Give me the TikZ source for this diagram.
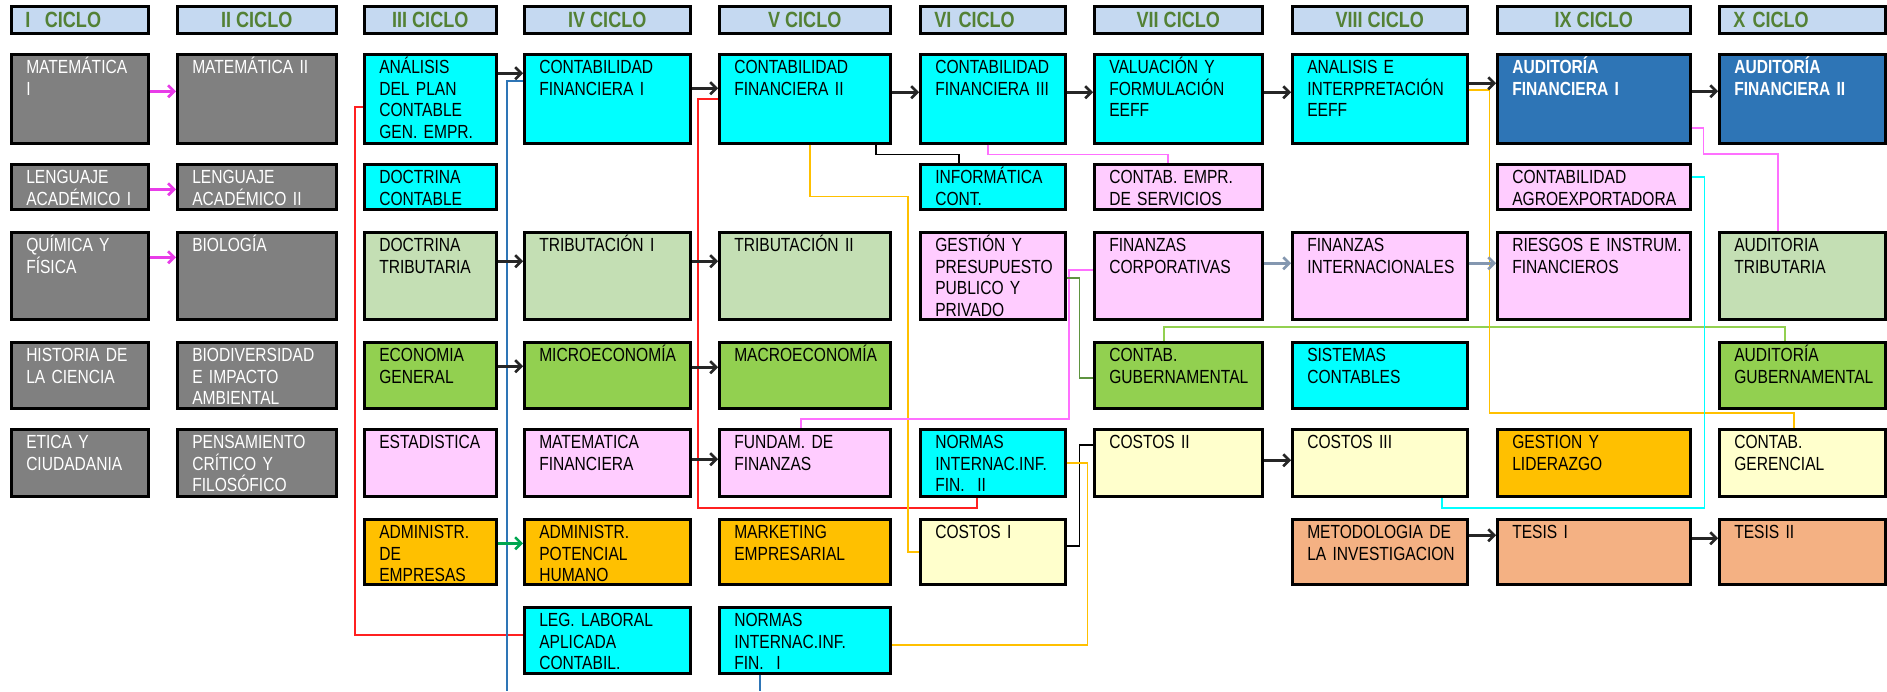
\documentclass[tikz,border=0pt]{standalone}
\usepackage{fontspec}
\newfontfamily\narrow[FakeStretch=0.82]{Liberation Sans}
\usepackage{tikz}
\usetikzlibrary{arrows.meta, positioning, calc}
\definecolor{hdrblue}{HTML}{C5D9F1}
\definecolor{hdrgreen}{HTML}{538135}
\definecolor{cgray}{HTML}{808080}
\definecolor{ccyan}{HTML}{00FFFF}
\definecolor{clgreen}{HTML}{C4DFB4}
\definecolor{cgreen}{HTML}{92D050}
\definecolor{cpink}{HTML}{FFCCFF}
\definecolor{corange}{HTML}{FFC000}
\definecolor{cyellow}{HTML}{FFFFCC}
\definecolor{csalmon}{HTML}{F4B183}
\definecolor{cdblue}{HTML}{2E75B6}
\definecolor{amag}{HTML}{E83CE8}
\definecolor{aslate}{HTML}{8497B0}
\definecolor{agreen}{HTML}{00A651}
\definecolor{lred}{HTML}{FF2020}
\definecolor{lblue}{HTML}{2E75B6}
\definecolor{lyel}{HTML}{FFC000}
\definecolor{lpink}{HTML}{FF70FF}
\definecolor{lolive}{HTML}{5E9440}
\definecolor{llgreen}{HTML}{92D050}
\definecolor{lcyan}{HTML}{00FFFF}

\begin{document}
\begin{tikzpicture}[x=1pt, y=-1pt, >={Straight Barb[length=6pt,width=12pt]},
    hdr/.style={draw, line width=2.5pt, fill=hdrblue, text=hdrgreen, anchor=north west,
      minimum height=27pt, inner sep=0pt, font=\narrow\bfseries\fontsize{22}{24}\selectfont},
    hdrl/.style={hdr, align=left, inner xsep=14pt},
    crs/.style={draw, line width=2.5pt, anchor=north west, align=left, inner xsep=15pt,
      inner ysep=2pt, text height=17.5pt, font=\narrow\fontsize{19}{21.5}\selectfont,
      execute at begin node={\hyphenpenalty=10000 \exhyphenpenalty=10000 \hbadness=10000 \hfuzz=40pt}},
    w1/.style={text width=107pt}, w2/.style={text width=129pt}, w3/.style={text width=102pt},
    w4/.style={text width=136pt}, w5/.style={text width=141pt}, w6/.style={text width=115pt},
    w7/.style={text width=138pt}, w8/.style={text width=145pt}, w9/.style={text width=163pt},
    w10/.style={text width=136pt},
    ra/.style={text depth=67.5pt}, rb/.style={text depth=23.5pt}, rc/.style={text depth=65.5pt},
    rd/.style={text depth=44.5pt}, re/.style={text depth=45.5pt}, rf/.style={text depth=43.5pt},
    rg/.style={text depth=44.5pt},
    gry/.style={crs, fill=cgray, text=white},
    cyn/.style={crs, fill=ccyan},
    lgr/.style={crs, fill=clgreen},
    grn/.style={crs, fill=cgreen},
    pnk/.style={crs, fill=cpink},
    org/.style={crs, fill=corange},
    lyl/.style={crs, fill=cyellow},
    sal/.style={crs, fill=csalmon},
    dbl/.style={crs, fill=cdblue, text=white, font=\narrow\bfseries\fontsize{19}{21.5}\selectfont},
    arr/.style={->, line width=2.5pt, black!85},
    marr/.style={->, line width=2.8pt, amag},
    sarr/.style={->, line width=2.5pt, aslate},
    garr/.style={->, line width=2.5pt, agreen},
    ln/.style={line width=1.6pt}]
  \useasboundingbox (0,0) rectangle (1887,691);

  % ciclos
  \node[hdrl, text width=109pt] (h1) at (10,5) {I~~CICLO};
  \node[hdr, minimum width=159pt] (h2) at (176,5) {II CICLO};
  \node[hdr, minimum width=132pt] (h3) at (363,5) {III CICLO};
  \node[hdr, minimum width=166pt] (h4) at (523,5) {IV CICLO};
  \node[hdr, minimum width=171pt] (h5) at (718,5) {V CICLO};
  \node[hdrl, text width=117pt] (h6) at (919,5) {VI CICLO};
  \node[hdr, minimum width=168pt] (h7) at (1093,5) {VII CICLO};
  \node[hdr, minimum width=175pt] (h8) at (1291,5) {VIII CICLO};
  \node[hdr, minimum width=193pt] (h9) at (1496,5) {IX CICLO};
  \node[hdrl, text width=138pt] (h10) at (1718,5) {X CICLO};

  % I ciclo
  \node[gry, w1, ra] (mat1) at (10,53) {MATEMÁTICA\\I};
  \node[gry, w1, rb] (len1) at (10,163) {LENGUAJE\\ACADÉMICO I};
  \node[gry, w1, rc] (qui) at (10,231) {QUÍMICA Y\\FÍSICA};
  \node[gry, w1, rd] (his) at (10,341) {HISTORIA DE\\LA CIENCIA};
  \node[gry, w1, re] (eti) at (10,428) {ETICA Y\\CIUDADANIA};

  % II ciclo
  \node[gry, w2, ra] (mat2) at (176,53) {MATEMÁTICA II};
  \node[gry, w2, rb] (len2) at (176,163) {LENGUAJE\\ACADÉMICO II};
  \node[gry, w2, rc] (bio) at (176,231) {BIOLOGÍA};
  \node[gry, w2, rd] (biod) at (176,341) {BIODIVERSIDAD\\E IMPACTO\\AMBIENTAL};
  \node[gry, w2, re] (pen) at (176,428) {PENSAMIENTO\\CRÍTICO Y\\FILOSÓFICO};

  % III ciclo
  \node[cyn, w3, ra] (apc) at (363,53) {ANÁLISIS\\DEL PLAN\\CONTABLE\\GEN. EMPR.};
  \node[cyn, w3, rb] (dcon) at (363,163) {DOCTRINA\\CONTABLE};
  \node[lgr, w3, rc] (dtri) at (363,231) {DOCTRINA\\TRIBUTARIA};
  \node[grn, w3, rd] (ecog) at (363,341) {ECONOMIA\\GENERAL};
  \node[pnk, w3, re] (est) at (363,428) {ESTADISTICA};
  \node[org, w3, rf] (adme) at (363,518) {ADMINISTR.\\DE\\EMPRESAS};

  % IV ciclo
  \node[cyn, w4, ra] (cf1) at (523,53) {CONTABILIDAD\\FINANCIERA I};
  \node[lgr, w4, rc] (tri1) at (523,231) {TRIBUTACIÓN I};
  \node[grn, w4, rd] (mic) at (523,341) {MICROECONOMÍA};
  \node[pnk, w4, re] (matf) at (523,428) {MATEMATICA\\FINANCIERA};
  \node[org, w4, rf] (adph) at (523,518) {ADMINISTR.\\POTENCIAL\\HUMANO};
  \node[cyn, w4, rg] (leg) at (523,606) {LEG. LABORAL\\APLICADA\\CONTABIL.};

  % V ciclo
  \node[cyn, w5, ra] (cf2) at (718,53) {CONTABILIDAD\\FINANCIERA II};
  \node[lgr, w5, rc] (tri2) at (718,231) {TRIBUTACIÓN II};
  \node[grn, w5, rd] (mac) at (718,341) {MACROECONOMÍA};
  \node[pnk, w5, re] (fufi) at (718,428) {FUNDAM. DE\\FINANZAS};
  \node[org, w5, rf] (mkt) at (718,518) {MARKETING\\EMPRESARIAL};
  \node[cyn, w5, rg] (nif1) at (718,606) {NORMAS\\INTERNAC.INF.\\FIN.~~I};

  % VI ciclo
  \node[cyn, w6, ra] (cf3) at (919,53) {CONTABILIDAD\\FINANCIERA III};
  \node[cyn, w6, rb] (infc) at (919,163) {INFORMÁTICA\\CONT.};
  \node[pnk, w6, rc] (gpp) at (919,231) {GESTIÓN Y\\PRESUPUESTO\\PUBLICO Y\\PRIVADO};
  \node[cyn, w6, re] (nif2) at (919,428) {NORMAS\\INTERNAC.INF.\\FIN.~~II};
  \node[lyl, w6, rf] (cos1) at (919,518) {COSTOS I};

  % VII ciclo
  \node[cyn, w7, ra] (val) at (1093,53) {VALUACIÓN Y\\FORMULACIÓN\\EEFF};
  \node[pnk, w7, rb] (ces) at (1093,163) {CONTAB.~EMPR.\\DE SERVICIOS};
  \node[pnk, w7, rc] (fcor) at (1093,231) {FINANZAS\\CORPORATIVAS};
  \node[grn, w7, rd] (cgub) at (1093,341) {CONTAB.\\GUBERNAMENTAL};
  \node[lyl, w7, re] (cos2) at (1093,428) {COSTOS II};

  % VIII ciclo
  \node[cyn, w8, ra] (aie) at (1291,53) {ANALISIS E\\INTERPRETACIÓN\\EEFF};
  \node[pnk, w8, rc] (fint) at (1291,231) {FINANZAS\\INTERNACIONALES};
  \node[cyn, w8, rd] (sisc) at (1291,341) {SISTEMAS\\CONTABLES};
  \node[lyl, w8, re] (cos3) at (1291,428) {COSTOS III};
  \node[sal, w8, rf] (met) at (1291,518) {METODOLOGIA~DE\\LA~INVESTIGACION};

  % IX ciclo
  \node[dbl, w9, ra] (af1) at (1496,53) {AUDITORÍA\\FINANCIERA I};
  \node[pnk, w9, rb] (agro) at (1496,163) {CONTABILIDAD\\AGROEXPORTADORA};
  \node[pnk, w9, rc] (rif) at (1496,231) {RIESGOS~E~INSTRUM.\\FINANCIEROS};
  \node[org, w9, re] (gyl) at (1496,428) {GESTION Y\\LIDERAZGO};
  \node[sal, w9, rf] (tes1) at (1496,518) {TESIS I};

  % X ciclo
  \node[dbl, w10, ra] (af2) at (1718,53) {AUDITORÍA\\FINANCIERA II};
  \node[lgr, w10, rc] (atri) at (1718,231) {AUDITORIA\\TRIBUTARIA};
  \node[grn, w10, rd] (agub) at (1718,341) {AUDITORÍA\\GUBERNAMENTAL};
  \node[lyl, w10, re] (cger) at (1718,428) {CONTAB.\\GERENCIAL};
  \node[sal, w10, rf] (tes2) at (1718,518) {TESIS II};

  \coordinate (bot1) at (507,691);
  \coordinate (bot2) at (760,691);

  % thin links
  \draw[ln, lred] ([yshift=-8.5pt]apc.west) -- ++(-8,0) |- ([yshift=5pt]leg.west);
  \draw[ln, lred] (cf2.west) -- ++(-20,0) -- ++(0,409) -| ([xshift=-15.5pt]nif2.south);
  \draw[ln, lblue] ([yshift=17.5pt]cf1.west) -| (bot1);
  \draw[ln, lblue] (nif1.south -| bot2) -- (bot2);
  \draw[ln, lyel] ([xshift=5.5pt]cf2.south) -- ++(0,52) -- ++(98,0) |- (cos1.west);
  \draw[ln, black] ([xshift=71.5pt]cf2.south) -- ++(0,10) -| ([xshift=-33.5pt]infc.north);
  \draw[ln, lpink] ([xshift=-4.5pt]cf3.south) -- ++(0,10) -| ([xshift=-10pt]ces.north);
  \draw[ln, lpink] ([yshift=5.5pt]fcor.west) -- ++(-24,0) -- ++(0,149) -| ([xshift=-3.5pt]fufi.north);
  \draw[ln, lolive] ([yshift=-2.5pt]gpp.east) -- ++(13,0) |- ([yshift=-3pt]cgub.west);
  \draw[ln, llgreen] ([xshift=-14pt]cgub.north) -- ++(0,-14) -| ([xshift=-17pt]agub.north);
  \draw[ln, black] ([yshift=5.5pt]cos1.east) -- ++(13,0) |- ([yshift=17.5pt]cos2.west);
  \draw[ln, lyel] (nif2.east) -- ++(21,0) |- ([yshift=-5pt]nif1.east);
  \draw[ln, lyel] ([yshift=8.5pt]aie.east) -- ++(21,0) -- ++(0,323) -| ([xshift=-8pt]cger.north);
  \draw[ln, lpink] ([yshift=-29.5pt]af1.east) -- ++(12,0) -- ++(0,26) -| ([xshift=-24pt]atri.north);
  \draw[ln, lcyan] ([yshift=9.5pt]agro.east) -- ++(13,0) -- ++(0,331) -| ([xshift=62.5pt]cos3.south);

  % arrows
  \draw[marr] ([yshift=7.5pt]mat1.east) -- ([yshift=7.5pt]mat2.west);
  \draw[marr] ([yshift=-2.5pt]len1.east) -- ([yshift=-2.5pt]len2.west);
  \draw[marr] ([yshift=18.5pt]qui.east) -- ([yshift=18.5pt]bio.west);
  \draw[arr] ([yshift=25.5pt]apc.east) -- ([yshift=25.5pt]cf1.west);
  \draw[arr] ([yshift=10.5pt]cf1.east) -- ([yshift=10.5pt]cf2.west);
  \draw[arr] ([yshift=6.5pt]cf2.east) -- ([yshift=6.5pt]cf3.west);
  \draw[arr] ([yshift=6.5pt]cf3.east) -- ([yshift=6.5pt]val.west);
  \draw[arr] ([yshift=6.5pt]val.east) -- ([yshift=6.5pt]aie.west);
  \draw[arr] ([yshift=15.5pt]aie.east) -- ([yshift=15.5pt]af1.west);
  \draw[arr] ([yshift=7.5pt]af1.east) -- ([yshift=7.5pt]af2.west);
  \draw[arr] ([yshift=14.5pt]dtri.east) -- ([yshift=14.5pt]tri1.west);
  \draw[arr] ([yshift=14.5pt]tri1.east) -- ([yshift=14.5pt]tri2.west);
  \draw[arr] ([yshift=9pt]ecog.east) -- ([yshift=9pt]mic.west);
  \draw[arr] ([yshift=8pt]mic.east) -- ([yshift=8pt]mac.west);
  \draw[arr] ([yshift=3.5pt]matf.east) -- ([yshift=3.5pt]fufi.west);
  \draw[garr] ([yshift=8.5pt]adme.east) -- ([yshift=8.5pt]adph.west);
  \draw[arr] ([yshift=2.5pt]cos2.east) -- ([yshift=2.5pt]cos3.west);
  \draw[arr] ([yshift=16.5pt]met.east) -- ([yshift=16.5pt]tes1.west);
  \draw[arr] ([yshift=13.5pt]tes1.east) -- ([yshift=13.5pt]tes2.west);
  \draw[sarr] ([yshift=12.5pt]fcor.east) -- ([yshift=12.5pt]fint.west);
  \draw[sarr] ([yshift=12.5pt]fint.east) -- ([yshift=12.5pt]rif.west);
\end{tikzpicture}
\end{document}
